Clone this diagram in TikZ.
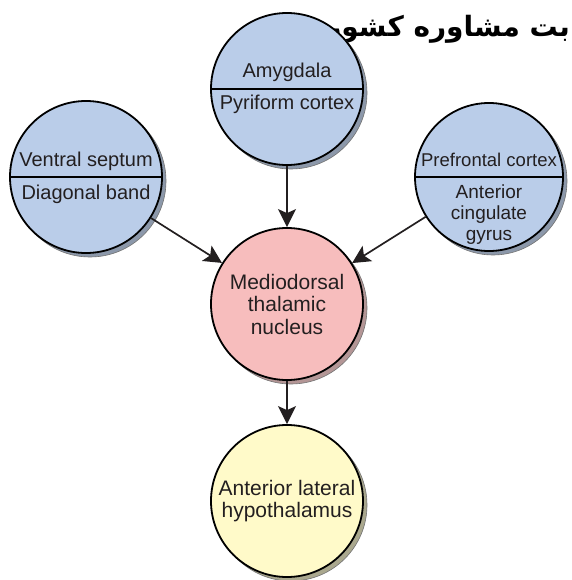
\documentclass[tikz,border=0pt]{standalone}
\usepackage{fontspec}
\setmainfont{Liberation Sans}
\newfontfamily\arabicfont[Script=Arabic]{DejaVu Sans}
\TeXXeTstate=1
\usepackage{tikz}
\usetikzlibrary{arrows.meta,shadows}
\definecolor{srcBg}{RGB}{186,205,233}
\definecolor{srcShd}{RGB}{140,152,170}
\definecolor{hubBg}{RGB}{247,189,189}
\definecolor{hubShd}{RGB}{180,150,150}
\definecolor{outBg}{RGB}{255,250,201}
\definecolor{outShd}{RGB}{170,168,142}
\definecolor{txtInk}{RGB}{35,31,32}

\begin{document}
\begin{tikzpicture}[
  x=1pt, y=-1pt,
  font=\fontsize{20}{22.5}\selectfont,
  region/.style ={circle, draw=black, line width=1.8pt, minimum size=152pt, inner sep=1pt,
                  align=center, text=txtInk},
  shd/.style     ={general shadow={fill=#1, draw=black!55, line width=.6pt,
                  shadow xshift=4pt, shadow yshift=-4pt}},
  tag/.style     ={anchor=base, inner sep=0pt, align=center, text=txtInk},
  divider/.style ={line width=1.6pt, draw=black},
  flow/.style    ={-{Stealth[length=18pt,width=18pt,inset=4pt]}, line width=1.7pt, draw=txtInk},
]
\useasboundingbox (0,0) rectangle (571,580);

% watermark, partly hidden by the top circle
\node[anchor=base east, inner sep=0pt, font=\arabicfont\bfseries\fontsize{28}{30}\selectfont]
  (mark) at (570,37) {\beginR بت مشاوره کشور\endR};

% ============ INPUT REGIONS (split circles) ============
\node[region, fill=srcBg, shd=srcShd] (amyg) at (287,89)  {};
\node[region, fill=srcBg, shd=srcShd] (vsep) at (86,177)  {};
\node[region, fill=srcBg, shd=srcShd, minimum size=148pt] (pfc) at (489,177) {};

\draw[divider] (amyg.west) -- (amyg.east);
\draw[divider] (vsep.west) -- (vsep.east);
\draw[divider] (pfc.west)  -- (pfc.east);

\node[tag] (amygUp) at (287,78)  {Amygdala};
\node[tag] (amygLo) at (287,110) {Pyriform cortex};
\node[tag] (vsepUp) at (86,167)  {Ventral septum};
\node[tag] (vsepLo) at (86,199)  {Diagonal band};
\node[tag, font=\fontsize{18.5}{21}\selectfont] (pfcUp) at (489,167) {Prefrontal cortex};
\node[tag, anchor=north, font=\fontsize{19}{21}\selectfont] (pfcLo) at (489,185)
  {Anterior\\cingulate\\gyrus};

% ============ THALAMUS / HYPOTHALAMUS ============
\node[region, fill=hubBg, shd=hubShd, font=\fontsize{21}{22.5}\selectfont] (md)  at (287,304)
  {Mediodorsal\\thalamic\\nucleus};
\node[region, fill=outBg, shd=outShd, font=\fontsize{21}{22}\selectfont] (alh) at (287,501)
  {Anterior lateral\\hypothalamus};

\draw[flow] (amyg) -- (md);
\draw[flow] (vsep) -- (md);
\draw[flow] (pfc)  -- (md);
\draw[flow] (md)   -- (alh);

\end{tikzpicture}
\end{document}
